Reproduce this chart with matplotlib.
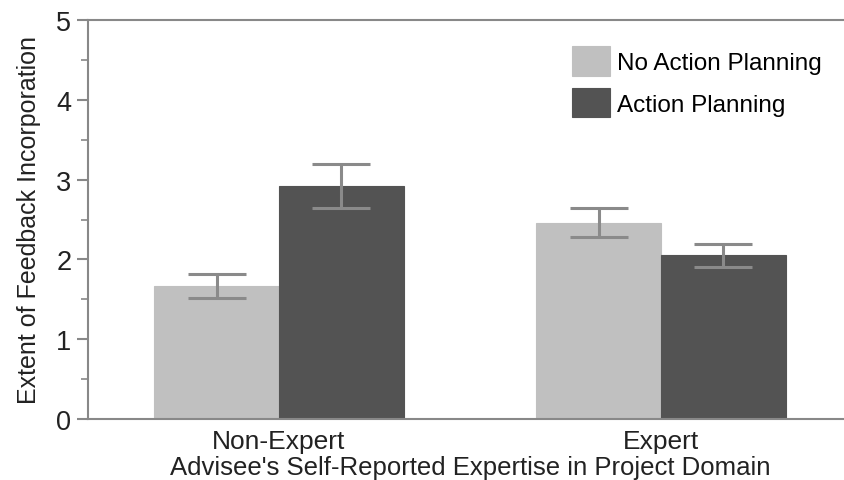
import numpy as np
import matplotlib.pyplot as plt

plt.rcParams['font.family'] = ['Liberation Sans', 'DejaVu Sans']

groups = ['Non-Expert', 'Expert']
series = ['No Action Planning', 'Action Planning']
means = {
    'No Action Planning': [1.67, 2.46],
    'Action Planning': [2.92, 2.05],
}
errors = {
    'No Action Planning': [0.15, 0.18],
    'Action Planning': [0.28, 0.14],
}
colors = {'No Action Planning': '#c0c0c0', 'Action Planning': '#535353'}

fig = plt.figure(figsize=(8.44, 4.81), dpi=100)
ax = fig.add_axes([88 / 844, 61 / 481, 764 / 844, 399 / 481])

x = np.arange(len(groups))
width = 0.327
for i, name in enumerate(series):
    offset = (i - 0.5) * width
    ax.bar(x + offset, means[name], width, color=colors[name], label=name,
           edgecolor=colors[name], linewidth=0.8, zorder=2)
    ax.errorbar(x + offset, means[name], yerr=errors[name], fmt='none',
                ecolor='#8a8a8a', elinewidth=2.2, capsize=21, capthick=2.2, zorder=3)

ax.set_xlim(-0.5, 1.5)
ax.set_ylim(0, 5)
ax.set_yticks([0, 1, 2, 3, 4, 5])
ax.set_yticks(np.arange(0.5, 5, 1), minor=True)
ax.set_xticks(x)
ax.set_xticklabels(groups)
ax.tick_params(axis='x', length=0, labelsize=19, pad=7, colors='#222222')
ax.tick_params(axis='y', which='major', length=8, width=1.5, color='#888888',
               labelsize=19.5, pad=4, labelcolor='#222222')
ax.tick_params(axis='y', which='minor', length=5, width=1.2, color='#888888')

for side in ['left', 'top', 'bottom']:
    ax.spines[side].set_color('#888888')
    ax.spines[side].set_linewidth(1.5)
ax.spines['right'].set_visible(False)

ax.set_ylabel('Extent of Feedback Incorporation', fontsize=18, color='#222222', labelpad=11)
ax.set_xlabel("Advisee's Self-Reported Expertise in Project Domain", fontsize=18.5,
              color='#222222', labelpad=2)

ax.legend(loc='upper left', bbox_to_anchor=(0.605, 0.99), frameon=False, fontsize=17.5,
          handlelength=1.55, handleheight=1.5, handletextpad=0.3, labelspacing=0.5)

plt.savefig('out.png', dpi=100)
plt.close()
